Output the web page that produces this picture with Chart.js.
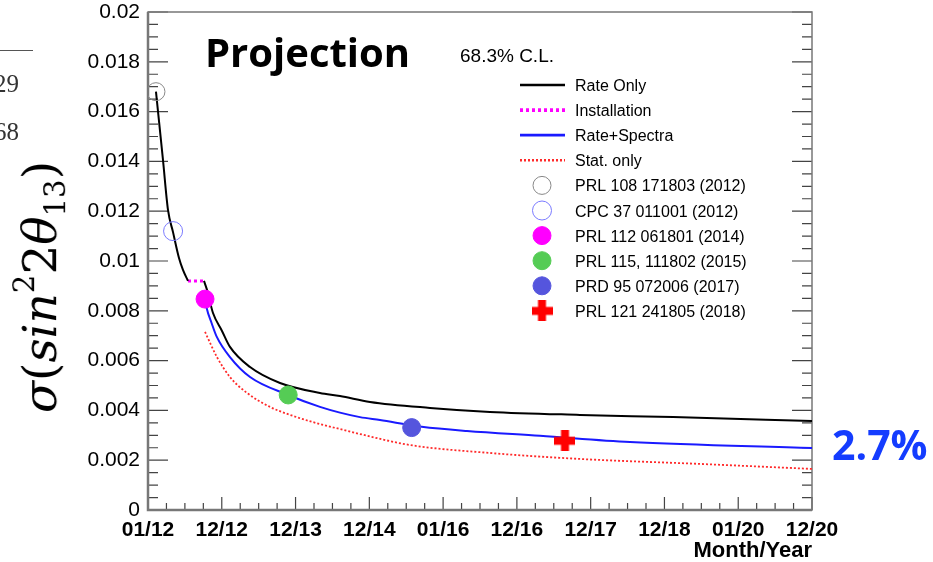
<!DOCTYPE html>
<html>
<head>
<meta charset="utf-8">
<script src="https://cdn.jsdelivr.net/npm/chart.js@4/dist/chart.umd.min.js"></script>
<style>
  html, body { margin: 0; padding: 0; background: #fff; }
  #wrap { position: relative; width: 933px; height: 562px; overflow: hidden; }
  #myChart { position: absolute; left: 0; top: 0; }
  #ytitle {
    position: absolute; left: 40px; top: 287px; white-space: nowrap;
    transform: translate(-50%, -50%) rotate(-90deg);
    font-family: "DejaVu Serif", serif; font-size: 47px; line-height: 1; color: #000;
  }
  #ytitle sup, #ytitle sub { font-size: 62%; font-style: normal; }
  #ytitle sup { vertical-align: 0.75em; }
  #ytitle sub { vertical-align: -0.3em; }
</style>
</head>
<body>
<div id="wrap">
  <canvas id="myChart" width="933" height="562"></canvas>
  <div id="ytitle"><i>σ</i>(<i>sin</i><sup>2</sup>2<i>θ</i><sub>13</sub>)</div>
</div>
<script>
// tick labels
const xTickLabels = ["01/12", "12/12", "12/13", "12/14", "01/16", "12/16", "12/17", "12/18", "01/20", "12/20"];
const yTickValues = [0, 0.002, 0.004, 0.006, 0.008, 0.01, 0.012, 0.014, 0.016, 0.018, 0.02];

// Rate Only, before and after the installation gap
const rateOnlyX1 = [0.108, 0.203, 0.271, 0.339, 0.420, 0.474, 0.542];
const rateOnlyY1 = [0.0168, 0.01406, 0.01205, 0.01116, 0.01012, 0.00964, 0.0092];
const rateOnlyX2 = [0.759, 0.8, 0.881, 1.003, 1.111, 1.383, 1.789, 2.331, 2.602, 3.009, 3.822, 4.635, 5.855, 7.116, 9.0];
const rateOnlyY2 = [0.0092, 0.00884, 0.00791, 0.00719, 0.00655, 0.00574, 0.0051, 0.0047, 0.00458, 0.00434, 0.0041, 0.00394, 0.00382, 0.00373, 0.00357];

// Installation
const installX = [0.542, 0.759];
const installY = [0.0092, 0.0092];

// Rate+Spectra
const spectraX = [0.773, 0.796, 0.863, 0.931, 1.111, 1.383, 1.90, 2.331, 2.602, 2.873, 3.144, 3.71, 4.324, 5.313, 6.533, 9.0];
const spectraY = [0.0085, 0.0081, 0.0075, 0.00696, 0.00614, 0.00534, 0.00462, 0.00414, 0.00391, 0.00373, 0.00361, 0.00334, 0.00317, 0.00298, 0.00273, 0.00249];

// Stat. only
const statX = [0.773, 0.935, 1.111, 1.342, 1.654, 1.925, 2.236, 2.602, 2.873, 3.551, 4.635, 5.855, 7.482, 9.0];
const statY = [0.00715, 0.00614, 0.00534, 0.0047, 0.00414, 0.00382, 0.00353, 0.00325, 0.00305, 0.00261, 0.00229, 0.00205, 0.00185, 0.00165];

// published measurements
const measLabels = ["PRL 108 171803 (2012)", "CPC 37 011001 (2012)", "PRL 112 061801 (2014)", "PRL 115, 111802 (2015)", "PRD 95 072006 (2017)", "PRL 121 241805 (2018)"];
const measX = [0.108, 0.34, 0.773, 1.90, 3.574, 5.652];
const measY = [0.0168, 0.0112, 0.00847, 0.00462, 0.00331, 0.00278];

const toPts = (xs, ys) => xs.map((x, i) => ({ x: x, y: ys[i] }));

// thick red plus used as marker
function makeCross(size, arm, color) {
  const c = document.createElement("canvas");
  c.width = size; c.height = size;
  const g = c.getContext("2d");
  g.fillStyle = color;
  const o = (size - arm) / 2;
  g.fillRect(o, 0, arm, size);
  g.fillRect(0, o, size, arm);
  return c;
}
const crossImg = makeCross(21, 8, "#ff0000");

const markerStyles = [
  { fill: "rgba(0,0,0,0)", stroke: "#888888", r: 9, w: 1 },
  { fill: "rgba(0,0,0,0)", stroke: "#7a7aff", r: 9.5, w: 1 },
  { fill: "#ff00ff", stroke: "#ff00ff", r: 9, w: 1 },
  { fill: "#55cc55", stroke: "#55cc55", r: 9, w: 1 },
  { fill: "#5555dd", stroke: "#5555dd", r: 9, w: 1 },
  { fill: "#ff0000", stroke: "#ff0000", r: 10, w: 1, img: crossImg }
];

const lineDatasets = [
  {
    label: "Rate Only",
    data: toPts(rateOnlyX1, rateOnlyY1).concat([{ x: 0.65, y: null }], toPts(rateOnlyX2, rateOnlyY2)),
    borderColor: "#000000", borderWidth: 2, borderDash: []
  },
  { label: "Installation", data: toPts(installX, installY), borderColor: "#ff00ff", borderWidth: 3, borderDash: [3, 3] },
  { label: "Rate+Spectra", data: toPts(spectraX, spectraY), borderColor: "#1a1aff", borderWidth: 2, borderDash: [] },
  { label: "Stat. only", data: toPts(statX, statY), borderColor: "#ff2a2a", borderWidth: 1.8, borderDash: [2, 2] }
].map(d => Object.assign(d, {
  showLine: true, pointRadius: 0, fill: false, spanGaps: false,
  cubicInterpolationMode: "monotone"
}));

const markerDatasets = measLabels.map((lab, i) => ({
  label: lab,
  data: [{ x: measX[i], y: measY[i] }],
  showLine: false,
  pointStyle: markerStyles[i].img || "circle",
  pointRadius: markerStyles[i].r,
  pointBackgroundColor: markerStyles[i].fill,
  pointBorderColor: markerStyles[i].stroke,
  pointBorderWidth: markerStyles[i].w
}));

// ROOT style frame with inward ticks
const rootFrame = {
  id: "rootFrame",
  beforeDatasetsDraw(chart) {
    const { ctx, chartArea: a, scales: { x, y } } = chart;
    ctx.save();
    ctx.strokeStyle = "#444";
    ctx.lineWidth = 1.2;
    ctx.beginPath();
    const nx = (xTickLabels.length - 1) * 4;
    for (let i = 0; i <= nx; i++) {
      const px = x.getPixelForValue(i / 4);
      const len = i % 4 === 0 ? 13 : 7;
      ctx.moveTo(px, a.bottom); ctx.lineTo(px, a.bottom - len);
    }
    const ny = (yTickValues.length - 1) * 4;
    const step = yTickValues[1] / 4;
    for (let i = 0; i <= ny; i++) {
      const py = y.getPixelForValue(i * step);
      const len = i % 4 === 0 ? 20 : 10;
      ctx.moveTo(a.left, py); ctx.lineTo(a.left + len, py);
      ctx.moveTo(a.right, py); ctx.lineTo(a.right - len, py);
    }
    ctx.stroke();
    ctx.strokeStyle = "#777";
    ctx.lineWidth = 1.5;
    ctx.strokeRect(a.left, a.top, a.right - a.left, a.bottom - a.top);
    ctx.lineWidth = 2.5;
    ctx.beginPath();
    ctx.moveTo(a.left, a.top); ctx.lineTo(a.left, a.bottom); ctx.lineTo(a.right, a.bottom);
    ctx.stroke();
    ctx.restore();
  }
};

// legend, titles and notes
const annotations = {
  id: "annotations",
  afterDraw(chart) {
    const { ctx, chartArea: a } = chart;
    ctx.save();
    ctx.fillStyle = "#000";
    ctx.textBaseline = "alphabetic";

    ctx.font = "bold 40px 'Open Sans', sans-serif";
    ctx.fillText("Projection", 205, 67);

    ctx.font = "19px 'Liberation Sans', Arial, sans-serif";
    ctx.fillText("68.3% C.L.", 460, 62);

    // legend rows
    const rowY = i => 85 + i * 25.1;
    ctx.font = "16px 'Liberation Sans', Arial, sans-serif";
    lineDatasets.forEach((d, i) => {
      ctx.save();
      ctx.strokeStyle = d.borderColor;
      ctx.lineWidth = d.borderWidth + 0.7;
      ctx.setLineDash(d.borderDash);
      ctx.beginPath();
      ctx.moveTo(520, rowY(i)); ctx.lineTo(565, rowY(i));
      ctx.stroke();
      ctx.restore();
      ctx.fillText(d.label, 575, rowY(i) + 6);
    });
    markerDatasets.forEach((d, j) => {
      const i = j + lineDatasets.length;
      const s = markerStyles[j];
      if (s.img) {
        ctx.drawImage(s.img, 542 - s.img.width / 2, rowY(i) - s.img.height / 2);
      } else {
        ctx.beginPath();
        ctx.arc(542, rowY(i), s.r, 0, Math.PI * 2);
        ctx.fillStyle = s.fill; ctx.fill();
        ctx.strokeStyle = s.stroke; ctx.lineWidth = 1; ctx.stroke();
      }
      ctx.fillStyle = "#000";
      ctx.fillText(d.label, 575, rowY(i) + 6);
    });

    ctx.font = "bold 22px 'Liberation Sans', Arial, sans-serif";
    ctx.textAlign = "right";
    ctx.fillText("Month/Year", a.right, 557);

    ctx.textAlign = "left";
    ctx.fillStyle = "#143cff";
    ctx.font = "bold 41px 'Open Sans', sans-serif";
    ctx.fillText("2.7%", 832, 460);

    // cut-off fragments at the left edge
    ctx.strokeStyle = "#555"; ctx.lineWidth = 1;
    ctx.beginPath(); ctx.moveTo(0, 50.5); ctx.lineTo(33, 50.5); ctx.stroke();
    ctx.fillStyle = "#333";
    ctx.font = "25px 'Liberation Serif', serif";
    ctx.textAlign = "right";
    ctx.fillText("29", 19, 92);
    ctx.fillText("68", 19, 140);
    ctx.restore();
  }
};

Chart.defaults.font.family = "'Liberation Sans', Arial, sans-serif";
Chart.defaults.color = "#000";

// keep the frame where the reference has it, whatever the label overhang
function noOverhang(s) {
  s.paddingTop = 0; s.paddingBottom = 0; s.paddingLeft = 0; s.paddingRight = 0;
}

const ctx = document.getElementById("myChart").getContext("2d");
const chart = new Chart(ctx, {
  type: "scatter",
  data: { datasets: markerDatasets.concat(lineDatasets) },
  options: {
    responsive: false,
    animation: false,
    devicePixelRatio: 1,
    layout: { padding: { left: 0, right: 121, top: 12, bottom: 0 } },
    plugins: { legend: { display: false }, tooltip: { enabled: false } },
    scales: {
      x: {
        type: "linear", min: 0, max: xTickLabels.length - 1,
        grid: { display: false, drawTicks: false },
        border: { display: false },
        afterBuildTicks: s => { s.ticks = xTickLabels.map((_, i) => ({ value: i })); },
        afterFit: s => { s.height = 52; noOverhang(s); },
        ticks: {
          autoSkip: false, maxRotation: 0, padding: 8,
          font: { size: 21, weight: "bold" },
          callback: (v, i) => xTickLabels[i]
        }
      },
      y: {
        type: "linear", min: 0, max: yTickValues[yTickValues.length - 1],
        grid: { display: false, drawTicks: false },
        border: { display: false },
        afterBuildTicks: s => { s.ticks = yTickValues.map(v => ({ value: v })); },
        afterFit: s => { s.width = 148; noOverhang(s); },
        ticks: {
          autoSkip: false, padding: 8,
          font: { size: 21 },
          callback: v => String(+v.toFixed(3))
        }
      }
    }
  },
  plugins: [rootFrame, annotations]
});
</script>
</body>
</html>
